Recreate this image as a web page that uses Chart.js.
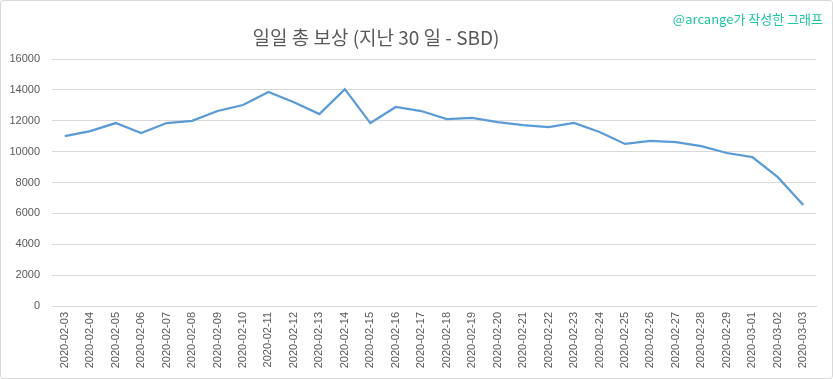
<!DOCTYPE html>
<html><head><meta charset="utf-8">
<script src="https://cdn.jsdelivr.net/npm/chart.js@4/dist/chart.umd.min.js"></script>
<style>
html,body{margin:0;padding:0;background:#fff;}
#wrap{position:relative;width:833px;height:379px;box-sizing:border-box;border:1px solid #d9d9d9;border-radius:3px;background:#fff;overflow:hidden;}
#title{position:absolute;left:0;width:750px;top:22px;text-align:center;font-family:"Noto Sans CJK KR","Noto Sans",sans-serif;font-size:19px;color:#595959;line-height:28px;white-space:nowrap;}
#mark{position:absolute;right:9px;top:9px;font-family:"Noto Sans CJK KR","Noto Sans",sans-serif;font-size:13px;color:#1dc6a0;line-height:18px;white-space:nowrap;}
#c{position:absolute;left:-1px;top:-1px;}
</style></head>
<body>
<div id="wrap">
<canvas id="c" width="833" height="379"></canvas>
<div id="title">일일 총 보상 (지난 30 일 - SBD)</div>
<div id="mark">@arcange가 작성한 그래프</div>
</div>
<script>
const categories = ["2020-02-03","2020-02-04","2020-02-05","2020-02-06","2020-02-07","2020-02-08","2020-02-09","2020-02-10","2020-02-11","2020-02-12","2020-02-13","2020-02-14","2020-02-15","2020-02-16","2020-02-17","2020-02-18","2020-02-19","2020-02-20","2020-02-21","2020-02-22","2020-02-23","2020-02-24","2020-02-25","2020-02-26","2020-02-27","2020-02-28","2020-02-29","2020-03-01","2020-03-02","2020-03-03"];
const rewardsSBD = [11000,11330,11850,11200,11850,11990,12630,13020,13860,13200,12430,14050,11850,12890,12630,12110,12180,11910,11720,11590,11860,11270,10500,10690,10620,10350,9910,9650,8345,6540];
const yTicks = [0,2000,4000,6000,8000,10000,12000,14000,16000];

new Chart(document.getElementById('c'), {
  type: 'line',
  data: {
    labels: categories,
    datasets: [{
      data: rewardsSBD,
      borderColor: '#5b9bd5',
      borderWidth: 2.25,
      pointRadius: 0,
      tension: 0,
      fill: false
    }]
  },
  options: {
    responsive: false,
    animation: false,
    events: [],
    layout: { padding: { top: 59, right: 17, left: 0, bottom: 0 } },
    plugins: { legend: { display: false }, tooltip: { enabled: false }, title: { display: false } },
    scales: {
      x: {
        offset: true,
        grid: { display: false, drawTicks: false },
        border: { display: true, color: '#d9d9d9', width: 1 },
        ticks: {
          autoSkip: false, maxRotation: 90, minRotation: 90, padding: 6,
          color: '#595959', font: { family: 'Liberation Sans', size: 11 }
        },
        afterFit: s => { s.height = 73; }
      },
      y: {
        min: 0, max: 16000,
        afterBuildTicks: s => { s.ticks = yTicks.map(v => ({ value: v })); },
        grid: { color: '#d9d9d9', lineWidth: 1, drawTicks: false },
        border: { display: false },
        ticks: { padding: 12, color: '#595959', font: { family: 'Liberation Sans', size: 11 },
          callback: v => String(v) },
        afterFit: s => { s.width = 52; }
      }
    }
  }
});
</script>
</body></html>
